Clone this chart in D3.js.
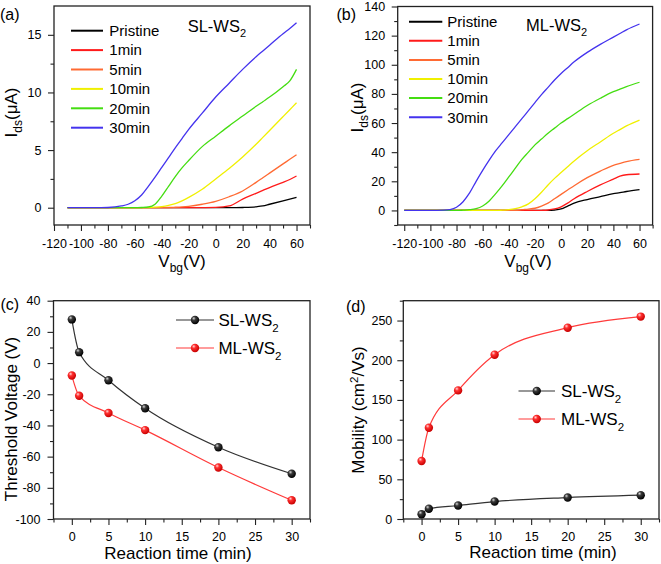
<!DOCTYPE html>
<html><head><meta charset="utf-8">
<script src="https://cdn.jsdelivr.net/npm/d3@7"></script>
<style>
body{margin:0;background:#fff}
svg{display:block}
text{font-family:Arial,"Liberation Sans",Helvetica,sans-serif;fill:#000}
</style>
</head><body>
<svg id="c" width="661" height="564"></svg>
<script>
// ---------- DATA ----------
const seriesNames = ["Pristine","1min","5min","10min","20min","30min"];
// panel (a) SL-WS2 transfer curves
const vgA = [-110,-90,-80,-70,-65,-60,-55,-50,-45,-40,-35,-30,-25,-20,-10,0,10,20,30,35,40,50,55,60];
const aPristine = [0,0,0,0,0,0,0,0,0,0,0,0,0,0,0,0,0,0.02,0.08,0.15,0.3,0.6,0.75,0.9];
const a1min  = [0,0,0,0,0,0,0,0,0,0,0,0,0,0,0.01,0.03,0.15,0.75,1.25,1.5,1.75,2.2,2.45,2.75];
const a5min  = [0,0,0,0,0,0,0,0,0,0.01,0.02,0.04,0.07,0.12,0.3,0.55,0.95,1.45,2.2,2.6,3.0,3.8,4.2,4.6];
const a10min = [0,0,0,0,0,0,0,0.02,0.05,0.1,0.2,0.35,0.6,0.9,1.6,2.5,3.4,4.4,5.5,6.1,6.7,7.9,8.5,9.1];
const a20min = [0,0,0,0,0,0,0.02,0.06,0.3,1.0,1.85,2.7,3.45,4.1,5.3,6.2,7.1,7.95,8.8,9.2,9.6,10.5,11.0,12.0];
const a30min = [0,0,0.02,0.15,0.3,0.6,1.1,1.85,2.65,3.5,4.35,5.2,6.0,6.8,8.2,9.6,10.8,12.0,13.1,13.6,14.1,15.1,15.55,16.05];
// panel (b) ML-WS2 transfer curves
const vgB = [-120,-110,-100,-90,-85,-80,-75,-70,-65,-60,-55,-50,-45,-40,-35,-30,-25,-20,-15,-10,-5,0,5,10,20,30,40,45,50,60];
const bPristine = [0,0,0,0,0,0,0,0,0,0,0,0,0,0,0,0,0,0,0,0,0.3,1.0,3,5,7.5,9.5,11.5,12.2,13,14.3];
const b1min  = [0,0,0,0,0,0,0,0,0,0,0,0,0,0,0,0,0,0,0.1,0.3,1,2.5,5,8,13,17.5,21.5,23.5,24.5,25];
const b5min  = [0,0,0,0,0,0,0,0,0,0,0,0,0,0,0,0.5,0.9,1.5,3,5,8,11,14,17,22.5,27,31,32.3,33.5,35];
const b10min = [0,0,0,0,0,0,0,0,0,0,0,0,0.2,0.5,1.2,2.5,4.5,8,12.5,17.5,22,26,30,34,41,47,53,55.5,58,62];
const b20min = [0,0,0,0,0,0,0.2,0.5,1.2,3,6.5,11.5,17,23,29,35,40,45,49,53,56.5,60,63,66,72,77,81.5,83.3,85,88];
const b30min = [0,0,0,0.2,0.6,2.2,6,12,20,27.5,34.5,41,46.5,52,57.5,63,68.5,74,79.5,84.5,89.5,94,98,102,108.5,114,119,121.5,124,128];
// panels (c) and (d)
const reactionTime = [0,1,5,10,20,30];
const vthSL = [28,7,-11,-29,-54,-71];
const vthML = [-8,-21,-32,-43,-67,-88];
const muSL = [6,13,17,22,27,30];
const muML = [73,115,162,207,241,255];
// tick values
const xTicksAB = [-120,-100,-80,-60,-40,-20,0,20,40,60];
const xMinorAB = [-110,-90,-70,-50,-30,-10,10,30,50,70];
const yTicksA = [0,5,10,15];
const yMinorA = [2.5,7.5,12.5];
const yTicksB = [0,20,40,60,80,100,120,140];
const yMinorB = [-10,10,30,50,70,90,110,130];
const xTicksCD = [0,5,10,15,20,25,30];
const xMinorCD = [-2.5,2.5,7.5,12.5,17.5,22.5,27.5,32.5];
const yTicksC = [-100,-80,-60,-40,-20,0,20,40];
const yMinorC = [-90,-70,-50,-30,-10,10,30];
const yTicksD = [0,50,100,150,200,250];
const yMinorD = [25,75,125,175,225,275];

const curveColors = ["#000000","#ff1a1a","#ff6a33","#f0f000","#44dd11","#4433ee"];

// ---------- DRAW ----------
const svg = d3.select("#c");
const defs = svg.append("defs");
function sphereGrad(id, c0, c1, c2){
  const g = defs.append("radialGradient").attr("id",id).attr("cx","0.38").attr("cy","0.35").attr("r","0.65").attr("fx","0.35").attr("fy","0.3");
  g.append("stop").attr("offset","0").attr("stop-color",c0);
  g.append("stop").attr("offset","0.35").attr("stop-color",c1);
  g.append("stop").attr("offset","1").attr("stop-color",c2);
}
sphereGrad("gBlack","#d8d8d8","#3a3a3a","#000");
sphereGrad("gRed","#ffd8d8","#ff3030","#c80000");

function makePanel(cfg){
  const g = svg.append("g");
  const x = d3.scaleLinear().domain(cfg.xd).range([cfg.l, cfg.r]);
  const y = d3.scaleLinear().domain(cfg.yd).range([cfg.b, cfg.t]);
  const fmt = d => String(d);
  const styleAxis = sel => {
    sel.select(".domain").remove();
    sel.selectAll(".tick line").attr("stroke","#222").attr("stroke-width",1.1);
    sel.selectAll(".tick text").attr("font-size","12.5px").attr("fill","#000")
       .style("font-family","Arial,'Liberation Sans',sans-serif");
  };
  g.append("g").attr("transform",`translate(0,${cfg.b})`)
    .call(d3.axisBottom(x).tickValues(cfg.xMinor).tickSize(3.5).tickFormat(""))
    .call(styleAxis);
  g.append("g").attr("transform",`translate(0,${cfg.b})`)
    .call(d3.axisBottom(x).tickValues(cfg.xMajor).tickSize(6).tickPadding(cfg.xPad).tickFormat(fmt))
    .call(styleAxis);
  g.append("g").attr("transform",`translate(${cfg.l},0)`)
    .call(d3.axisLeft(y).tickValues(cfg.yMinor).tickSize(3.5).tickFormat(""))
    .call(styleAxis);
  g.append("g").attr("transform",`translate(${cfg.l},0)`)
    .call(d3.axisLeft(y).tickValues(cfg.yMajor).tickSize(6).tickPadding(cfg.yPad).tickFormat(fmt))
    .call(styleAxis);
  g.append("rect").attr("x",cfg.l).attr("y",cfg.t).attr("width",cfg.r-cfg.l).attr("height",cfg.b-cfg.t)
    .attr("fill","none").attr("stroke","#222").attr("stroke-width",1.3);
  const cid = "clip"+cfg.id;
  defs.append("clipPath").attr("id",cid).append("rect")
    .attr("x",cfg.l).attr("y",cfg.t).attr("width",cfg.r-cfg.l).attr("height",cfg.b-cfg.t);
  const plot = g.append("g").attr("clip-path",`url(#${cid})`);
  return {g, x, y, plot};
}

function transferPanel(cfg, vg, series, titleMain, lg){
  const p = makePanel(cfg);
  const line = d3.line().x((d,i)=>p.x(vg[i])).y(d=>p.y(d)).curve(d3.curveMonotoneX);
  series.forEach((s,k)=>{
    p.plot.append("path").attr("d",line(s)).attr("fill","none")
      .attr("stroke",curveColors[k]).attr("stroke-width",1.3);
  });
  // legend
  seriesNames.forEach((n,k)=>{
    const yy = lg.y0 + k*lg.dy;
    p.g.append("line").attr("x1",lg.x1).attr("x2",lg.x2).attr("y1",yy).attr("y2",yy)
      .attr("stroke",curveColors[k]).attr("stroke-width",2);
    p.g.append("text").attr("x",lg.tx).attr("y",yy+5.3).attr("font-size","15px").text(n);
  });
  // title
  const t = p.g.append("text").attr("x",lg.titleX).attr("y",lg.titleY).attr("font-size","16.5px");
  t.append("tspan").text(titleMain);
  t.append("tspan").attr("dy",5).attr("font-size","11px").text("2");
  // x label
  const xl = p.g.append("text").attr("x",lg.xlX).attr("y",267).attr("text-anchor","middle").attr("font-size","17px");
  xl.append("tspan").text("V");
  xl.append("tspan").attr("dy",5).attr("font-size","12px").text("bg");
  xl.append("tspan").attr("dy",-5).text("(V)");
  // y label
  const yl = p.g.append("text").attr("transform",`translate(${lg.ylX},${lg.ylY}) rotate(-90)`)
    .attr("text-anchor","middle").attr("font-size","17px");
  yl.append("tspan").text("I");
  yl.append("tspan").attr("dy",5).attr("font-size","12px").text("ds");
  yl.append("tspan").attr("dy",-5).text("(\u03bcA)");
  // panel letter
  p.g.append("text").attr("x",lg.letX).attr("y",19.5).attr("font-size","16px").text(lg.letter);
}

transferPanel({id:"a",l:54,r:310,t:6,b:225,xd:[-120,70],yd:[-1.5,17.5],
    xMajor:xTicksAB,xMinor:xMinorAB.filter(v=>v<=70),yMajor:yTicksA,yMinor:yMinorA,xPad:8.5,yPad:6.5},
  vgA,[aPristine,a1min,a5min,a10min,a20min,a30min],"SL-WS",
  {x1:71,x2:103,tx:109.3,y0:30.7,dy:19.4,titleX:187.7,titleY:31.7,xlX:182,ylX:16.7,ylY:112.5,letX:0,letter:"(a)"});

transferPanel({id:"b",l:397.7,r:652.6,t:6.5,b:225,xd:[-125,70],yd:[-10,140],
    xMajor:xTicksAB,xMinor:xMinorAB,yMajor:yTicksB,yMinor:yMinorB,xPad:8.5,yPad:6.5},
  vgB,[bPristine,b1min,b5min,b10min,b20min,b30min],"ML-WS",
  {x1:409,x2:442.3,tx:447.3,y0:21.7,dy:19.1,titleX:526,titleY:31,xlX:528,ylX:363.3,ylY:107.5,letX:336.5,letter:"(b)"});

function timePanel(cfg, sl, ml, lg){
  const p = makePanel(cfg);
  const line = d3.line().x((d,i)=>p.x(reactionTime[i])).y(d=>p.y(d)).curve(d3.curveMonotoneX);
  const sets = [{v:sl,c:"#333333",grad:"gBlack",name:"SL-WS"},{v:ml,c:"#ff3b3b",grad:"gRed",name:"ML-WS"}];
  sets.forEach(s=>{
    p.plot.append("path").attr("d",line(s.v)).attr("fill","none").attr("stroke",s.c).attr("stroke-width",1.2);
  });
  sets.forEach(s=>{
    p.plot.selectAll(null).data(s.v).enter().append("circle")
      .attr("cx",(d,i)=>p.x(reactionTime[i])).attr("cy",d=>p.y(d)).attr("r",4.2)
      .attr("fill",`url(#${s.grad})`);
  });
  sets.forEach((s,k)=>{
    const yy = lg.y0 + k*28;
    p.g.append("line").attr("x1",lg.x1).attr("x2",lg.x2).attr("y1",yy).attr("y2",yy)
      .attr("stroke",s.c).attr("stroke-width",1.2);
    p.g.append("circle").attr("cx",(lg.x1+lg.x2)/2).attr("cy",yy).attr("r",4.2).attr("fill",`url(#${s.grad})`);
    const t = p.g.append("text").attr("x",lg.tx).attr("y",yy+6).attr("font-size","17px");
    t.append("tspan").text(s.name);
    t.append("tspan").attr("dy",6).attr("font-size","11.5px").text("2");
  });
  // x label
  p.g.append("text").attr("x",lg.xlX).attr("y",lg.xlY).attr("text-anchor","middle").attr("font-size","17px")
    .text("Reaction time (min)");
  // y label
  const yl = p.g.append("text").attr("transform",`translate(${lg.ylX},${lg.ylY}) rotate(-90)`)
    .attr("text-anchor","middle").attr("font-size","17px");
  lg.yParts.forEach(part=>{
    const ts = yl.append("tspan").text(part.t);
    if(part.dy) ts.attr("dy",part.dy);
    if(part.fs) ts.attr("font-size",part.fs);
  });
  p.g.append("text").attr("x",lg.letX).attr("y",lg.letY).attr("font-size","16px").text(lg.letter);
}

timePanel({id:"c",l:53.5,r:310,t:300.7,b:519,xd:[-2.5,32.5],yd:[-100,40],
    xMajor:xTicksCD,xMinor:xMinorCD,yMajor:yTicksC,yMinor:yMinorC,xPad:7,yPad:7},
  vthSL, vthML,
  {x1:176,x2:214,tx:218.4,y0:320,xlX:178,xlY:559,ylX:16.7,ylY:419,
   yParts:[{t:"Threshold Voltage (V)"}],letX:0.5,letY:309.5,letter:"(c)"});

timePanel({id:"d",l:403.3,r:659,t:300.7,b:519,xd:[-2.5,32.5],yd:[0,275],
    xMajor:xTicksCD,xMinor:xMinorCD,yMajor:yTicksD,yMinor:yMinorD,xPad:7,yPad:5},
  muSL, muML,
  {x1:518.5,x2:555,tx:561,y0:391,xlX:543,xlY:558,ylX:364.3,ylY:410,
   yParts:[{t:"Mobility (cm"},{t:"2",dy:-6,fs:"11.5px"},{t:"/Vs)",dy:6}],letX:346,letY:312,letter:"(d)"});
</script>
</body></html>
